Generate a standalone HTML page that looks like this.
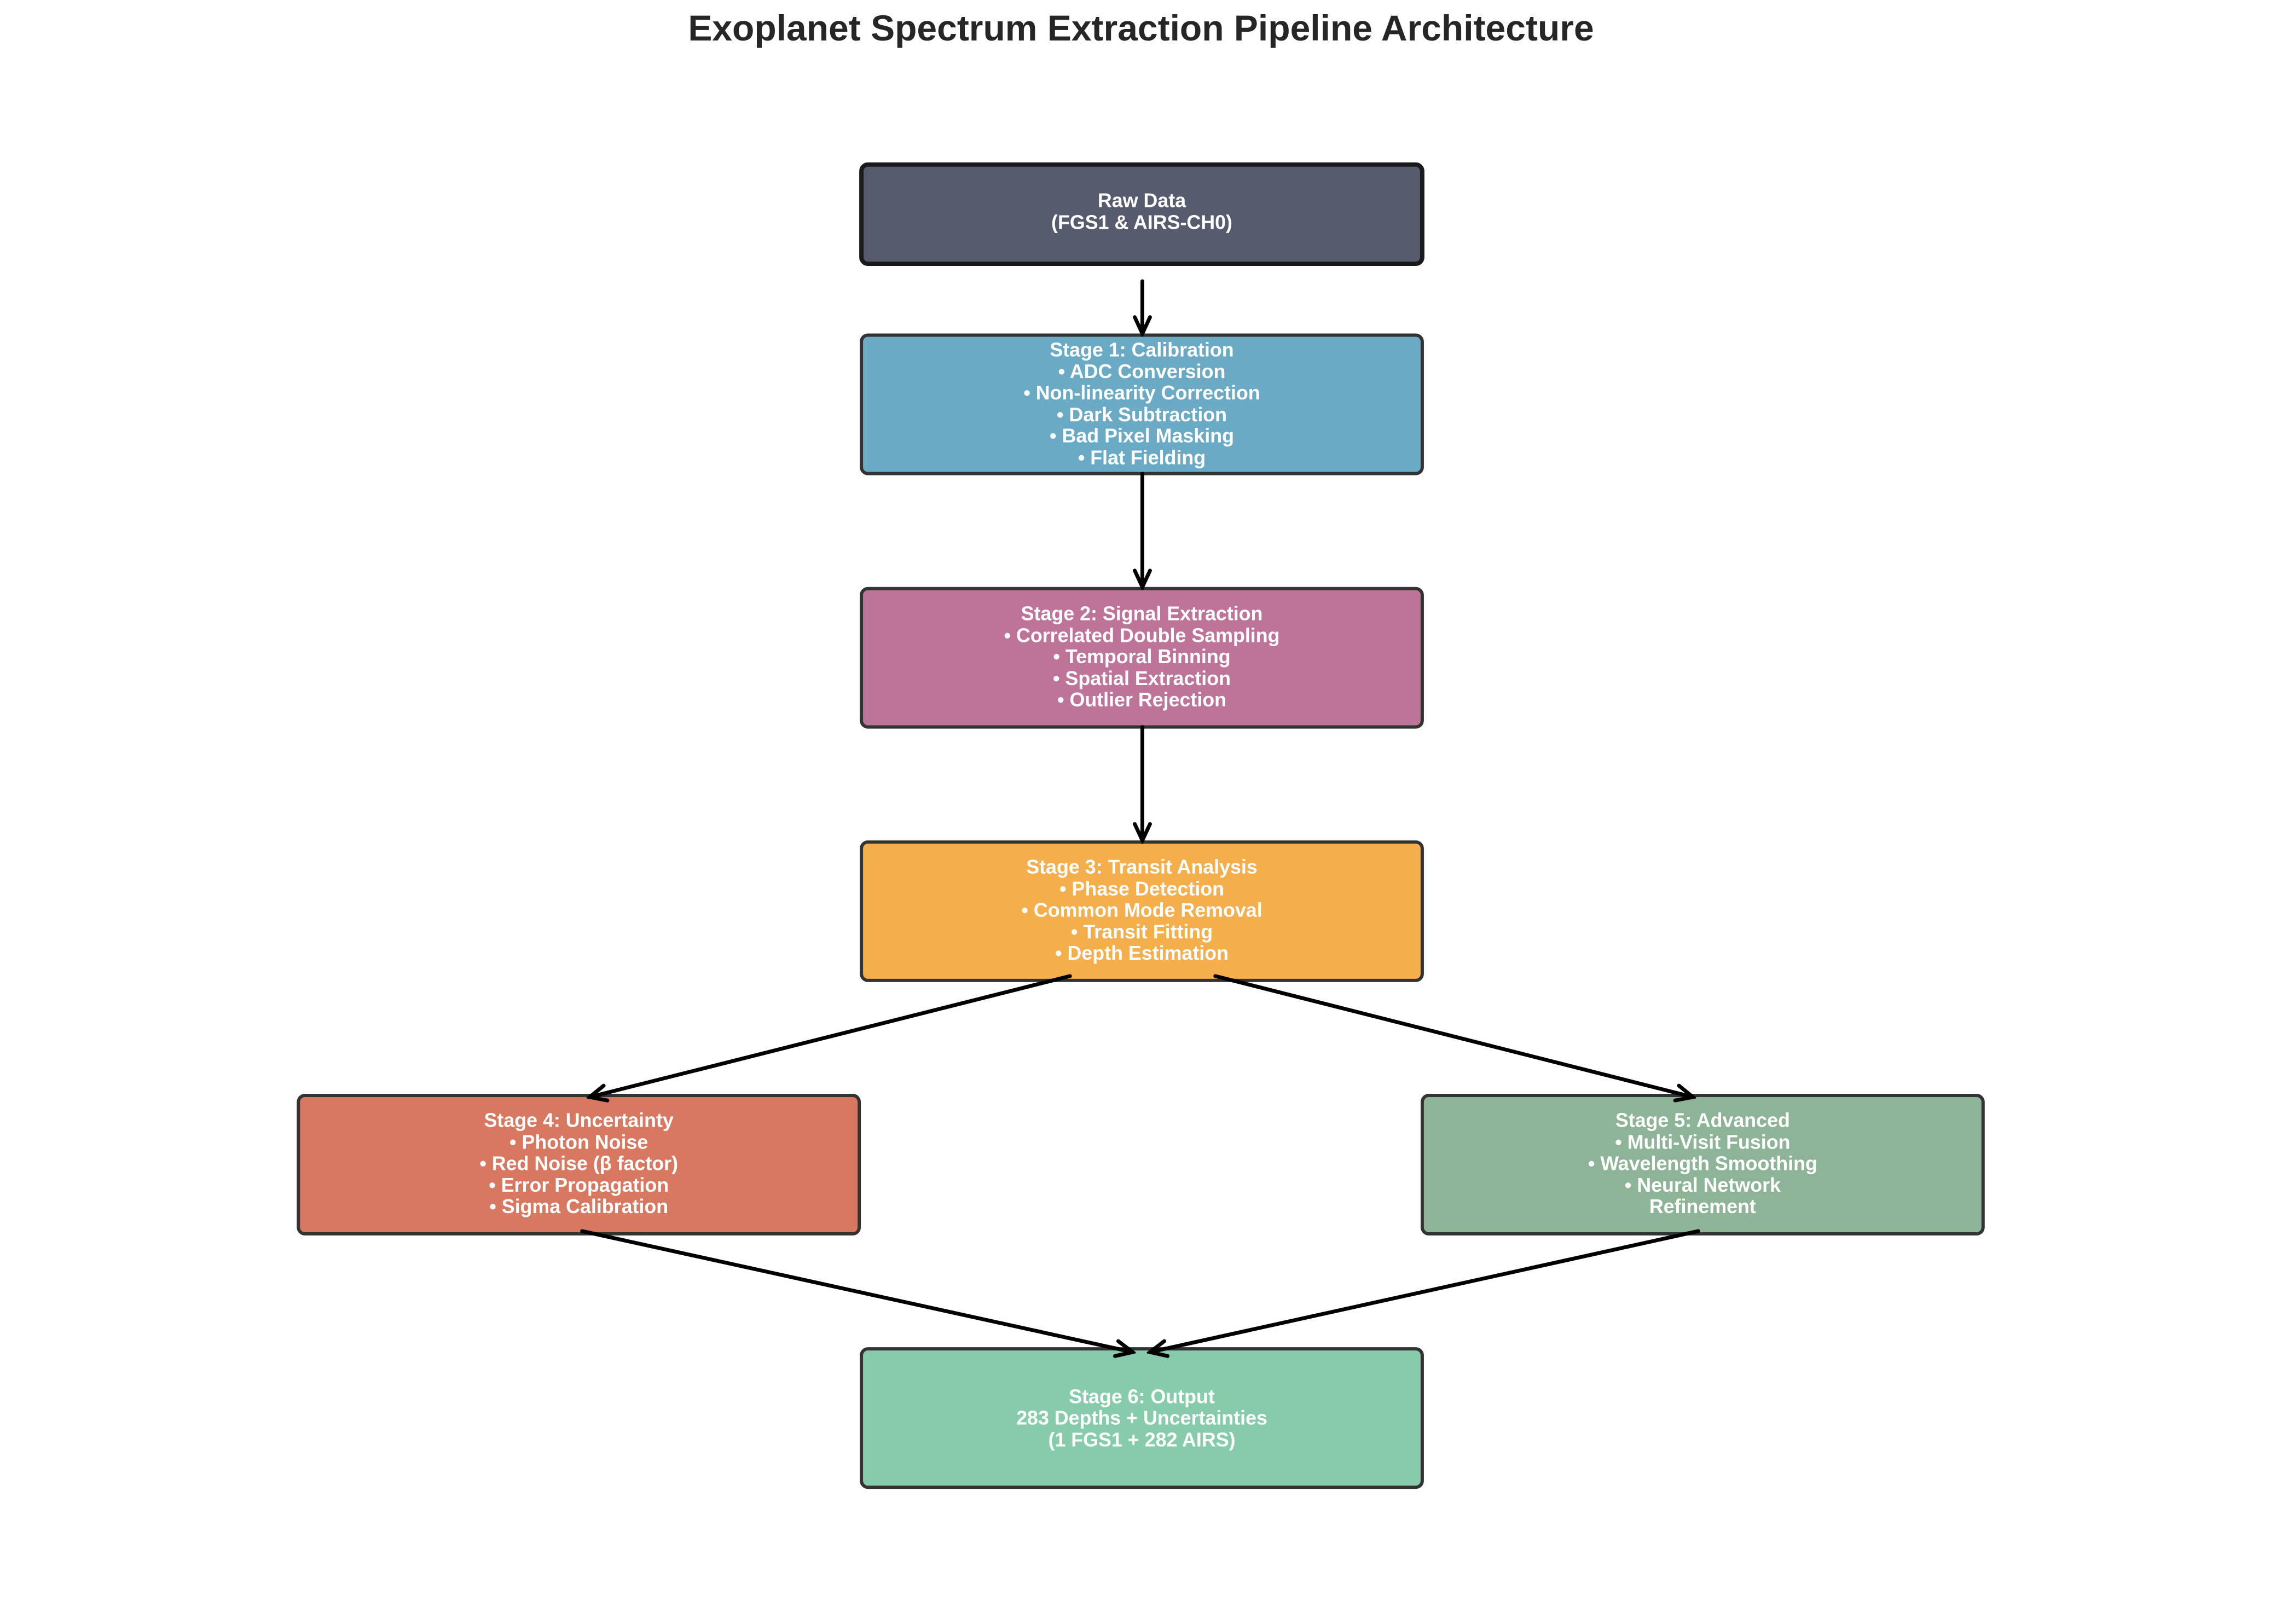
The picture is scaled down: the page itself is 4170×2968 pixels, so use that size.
<!DOCTYPE html>
<html><head><meta charset="utf-8"><style>
html,body{margin:0;padding:0;background:#fff}
svg{display:block}
text{font-family:"Liberation Sans",Arial,sans-serif;font-weight:bold}
</style></head><body>
<svg width="4170" height="2968" viewBox="0 0 4170 2968" xmlns="http://www.w3.org/2000/svg">
<text x="2085" y="74" font-size="66" fill="#262626" text-anchor="middle">Exoplanet Spectrum Extraction Pipeline Architecture</text>
<g transform="scale(0.995,0.996)">
<g stroke-width="6">
<rect x="1582" y="302" width="1030" height="182" rx="12" fill="#575b6e" stroke="#1a1a1a" stroke-width="8"/>
<rect x="1582" y="615" width="1030" height="254" rx="12" fill="#6aaac4" stroke="#333"/>
<rect x="1582" y="1080" width="1030" height="254" rx="12" fill="#be7499" stroke="#333"/>
<rect x="1582" y="1545" width="1030" height="254" rx="12" fill="#f4ae4c" stroke="#333"/>
<rect x="548" y="2010" width="1030" height="254" rx="12" fill="#d97860" stroke="#333"/>
<rect x="2612" y="2010" width="1030" height="254" rx="12" fill="#8db496" stroke="#333"/>
<rect x="1582" y="2475" width="1030" height="254" rx="12" fill="#86cbaa" stroke="#333"/>
</g>
<g fill="#fff" font-size="36" text-anchor="middle">
<text x="2097" y="380">Raw Data</text>
<text x="2097" y="420">(FGS1 &amp; AIRS-CH0)</text>
<text x="2097" y="654">Stage 1: Calibration</text>
<text x="2097" y="694">• ADC Conversion</text>
<text x="2097" y="733">• Non-linearity Correction</text>
<text x="2097" y="773">• Dark Subtraction</text>
<text x="2097" y="812">• Bad Pixel Masking</text>
<text x="2097" y="852">• Flat Fielding</text>
<text x="2097" y="1138">Stage 2: Signal Extraction</text>
<text x="2097" y="1178">• Correlated Double Sampling</text>
<text x="2097" y="1217">• Temporal Binning</text>
<text x="2097" y="1257">• Spatial Extraction</text>
<text x="2097" y="1296">• Outlier Rejection</text>
<text x="2097" y="1603">Stage 3: Transit Analysis</text>
<text x="2097" y="1643">• Phase Detection</text>
<text x="2097" y="1682">• Common Mode Removal</text>
<text x="2097" y="1722">• Transit Fitting</text>
<text x="2097" y="1761">• Depth Estimation</text>
<text x="1063" y="2068">Stage 4: Uncertainty</text>
<text x="1063" y="2108">• Photon Noise</text>
<text x="1063" y="2147">• Red Noise (β factor)</text>
<text x="1063" y="2187">• Error Propagation</text>
<text x="1063" y="2226">• Sigma Calibration</text>
<text x="3127" y="2068">Stage 5: Advanced</text>
<text x="3127" y="2108">• Multi-Visit Fusion</text>
<text x="3127" y="2147">• Wavelength Smoothing</text>
<text x="3127" y="2187">• Neural Network</text>
<text x="3127" y="2226">Refinement</text>
<text x="2097" y="2575">Stage 6: Output</text>
<text x="2097" y="2614">283 Depths + Uncertainties</text>
<text x="2097" y="2654">(1 FGS1 + 282 AIRS)</text>
</g>
<defs>
<marker id="b" markerWidth="42" markerHeight="42" refX="36" refY="21" orient="auto" markerUnits="userSpaceOnUse"><path d="M6,7 L36,21 L6,35" fill="none" stroke="#000" stroke-width="7" stroke-linecap="round"/></marker></defs>
<g stroke="#000" stroke-width="7" fill="none" stroke-linecap="round" marker-end="url(#b)">
<line x1="2098" y1="516" x2="2098" y2="612"/>
<line x1="2098" y1="869" x2="2098" y2="1077"/>
<line x1="2098" y1="1334" x2="2098" y2="1542"/>
<line x1="1965" y1="1791" x2="1083" y2="2013"/>
<line x1="2232" y1="1791" x2="3109" y2="2013"/>
<line x1="1069" y1="2259" x2="2080" y2="2481"/>
<line x1="3119" y1="2259" x2="2112" y2="2481"/>
</g>
</g>
</svg>
</body></html>
